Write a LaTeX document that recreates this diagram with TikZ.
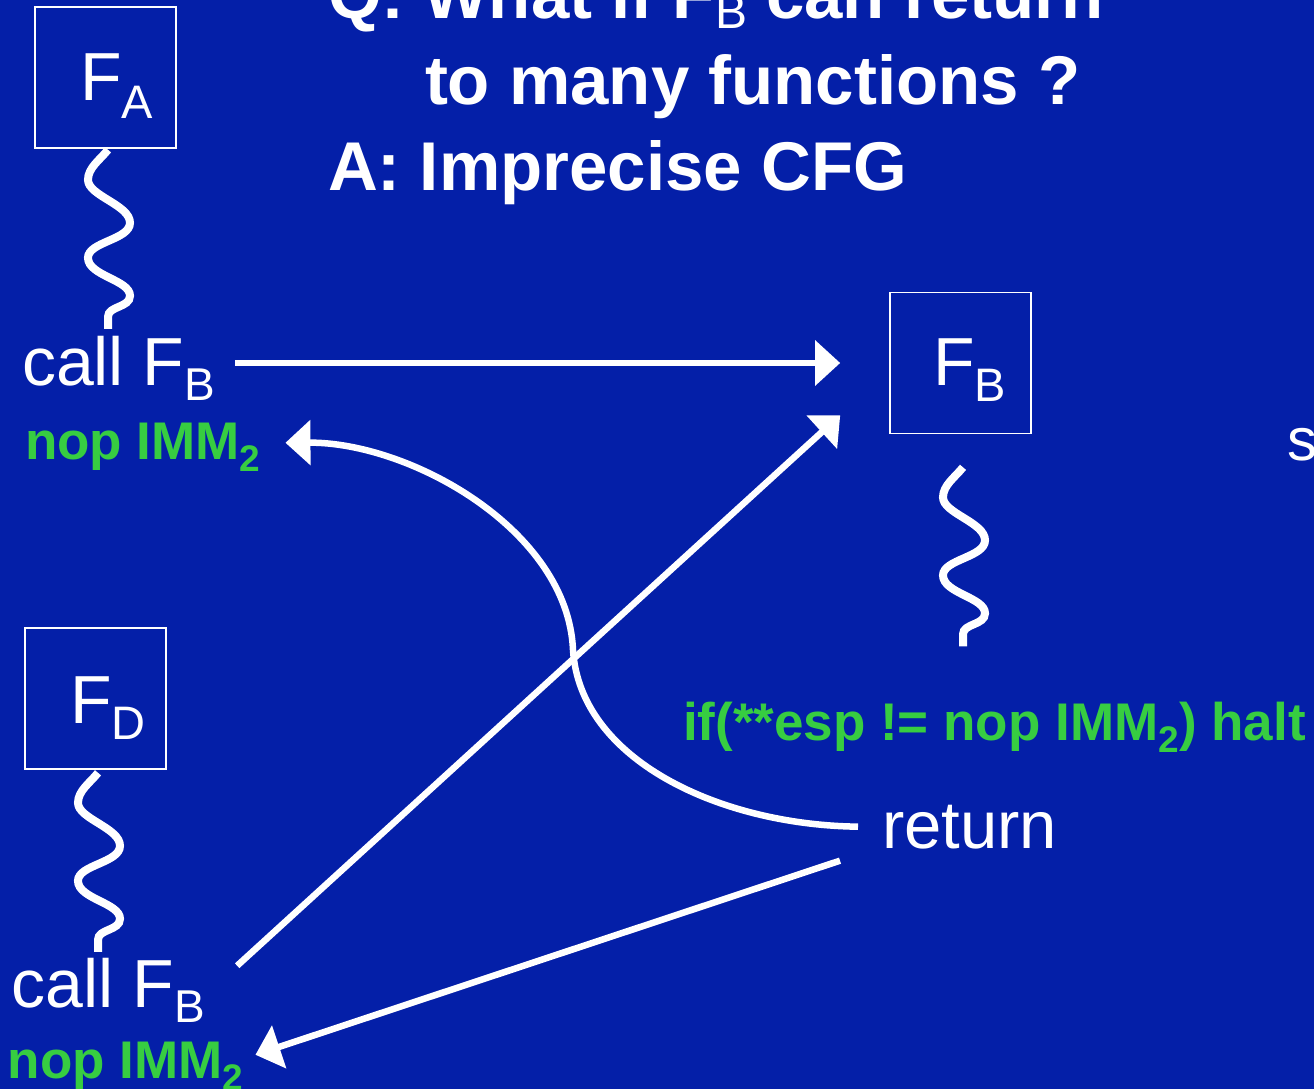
\documentclass[tikz,border=0pt]{standalone}
\usepackage{fontspec}
\setmainfont{Liberation Sans}
\usetikzlibrary{arrows.meta,calc}
\definecolor{bgblue}{RGB}{4,31,168}
\definecolor{codegreen}{RGB}{55,205,65}
\newcommand\regf[1]{\fontsize{#1}{#1}\selectfont}
\newcommand\lowsub[3]{\raisebox{-#1pt}{\fontsize{#2}{#2}\selectfont #3}}
\tikzset{
  txt/.style={anchor=base west,inner sep=0pt,outer sep=0pt,text=white},
  gtxt/.style={anchor=base west,inner sep=0pt,outer sep=0pt,text=codegreen,font=\bfseries},
  fbox/.style={draw=white,line width=1.6pt,minimum width=141pt,minimum height=141pt,inner sep=0pt},
  arr/.style={draw=white,line width=6.5pt,-{Triangle[length=25pt,width=44pt]}},
  squigline/.style={draw=white,line width=8pt},
  squig/.pic={\draw[squigline] (0,0) .. controls (-8,10) and (-20,18) .. (-20,30)
      .. controls (-20,46) and (22,55) .. (22,73)
      .. controls (22,90) and (-20,92) .. (-20,108)
      .. controls (-20,126) and (22,130) .. (22,146)
      .. controls (22,158) and (0,156) .. (0,167) -- (0,179);}
}
\begin{document}
\begin{tikzpicture}[x=1pt,y=-1pt]
\useasboundingbox (0,0) rectangle (1314,1089);
\clip (0,0) rectangle (1314,1089);
\fill[bgblue] (0,0) rectangle (1314,1089);

% title
\node[txt,font=\bfseries\regf{69}] (title1) at (328,19) {Q: What if F\lowsub{10}{48}{\mdseries B} can return};
\node[txt,font=\bfseries\regf{69}] (title2) at (425,105) {to many functions ?};
\node[txt,font=\bfseries\regf{69}] (title3) at (328,190) {A: Imprecise CFG};

% function boxes
\node[fbox] (FA) at (105.5,77.5) {};
\node[txt,font=\regf{68}] (FAlbl) at (80,101) {F\lowsub{18}{47}{A}};
\node[fbox] (FB) at (960.5,363) {};
\node[txt,font=\regf{68}] (FBlbl) at (933,385) {F\lowsub{16}{47}{B}};
\node[fbox] (FD) at (95.5,698.5) {};
\node[txt,font=\regf{68}] (FDlbl) at (70,723) {F\lowsub{16}{47}{D}};

% squiggles
\pic at ($(FA.south)+(2.5,1)$) {squig};
\pic at ($(FB.south)+(2.5,33)$) {squig};
\pic at ($(FD.south)+(2.5,3)$) {squig};

% code texts
\node[txt,font=\regf{68}] (callA) at (22,385) {call F\lowsub{15}{46}{B}};
\node[gtxt,font=\bfseries\regf{53}] (nopA) at (25,459) {nop IMM\lowsub{12}{37}{2}};
\node[txt,font=\regf{68}] (callD) at (12,1007) {call F\lowsub{15}{46}{B}};
\node[gtxt,font=\bfseries\regf{53}] (nopD) at (8,1078) {nop IMM\lowsub{12}{37}{2}};
\node[gtxt,font=\bfseries\regf{53}] (check) at (683,740) {if(**esp != nop IMM\lowsub{12}{37}{2}) halt};
\node[txt,font=\regf{67}] (ret) at (882,848) {return};
\node[txt,font=\regf{60}] (sfrag) at (1287,460) {s};

% connector end points tied to nodes
\coordinate (a1s) at (callA.east |- FB.west);
\coordinate (a2s) at ($(callD.north east)+(32,8)$);
\coordinate (a2e) at ($(FB.south west)+(-49,-19)$);
\coordinate (a3s) at ($(ret.west)+(-24,0)$);
\coordinate (a4s) at ($(ret.west)+(-42,34)$);

% connectors
\draw[arr,shorten <=20pt] (a1s) -- ($(FB.west)+(-49,0)$);
\draw[arr] (a2s) -- (a2e);
\draw[arr] (a3s) .. controls (720,825) and (580,760) .. (573,650)
   .. controls (568,530) and (410,442) .. ($(nopA.east)+(25,-4)$);
\draw[arr] (a4s) -- ($(nopD.east)+(12,-11)$);
\end{tikzpicture}
\end{document}
